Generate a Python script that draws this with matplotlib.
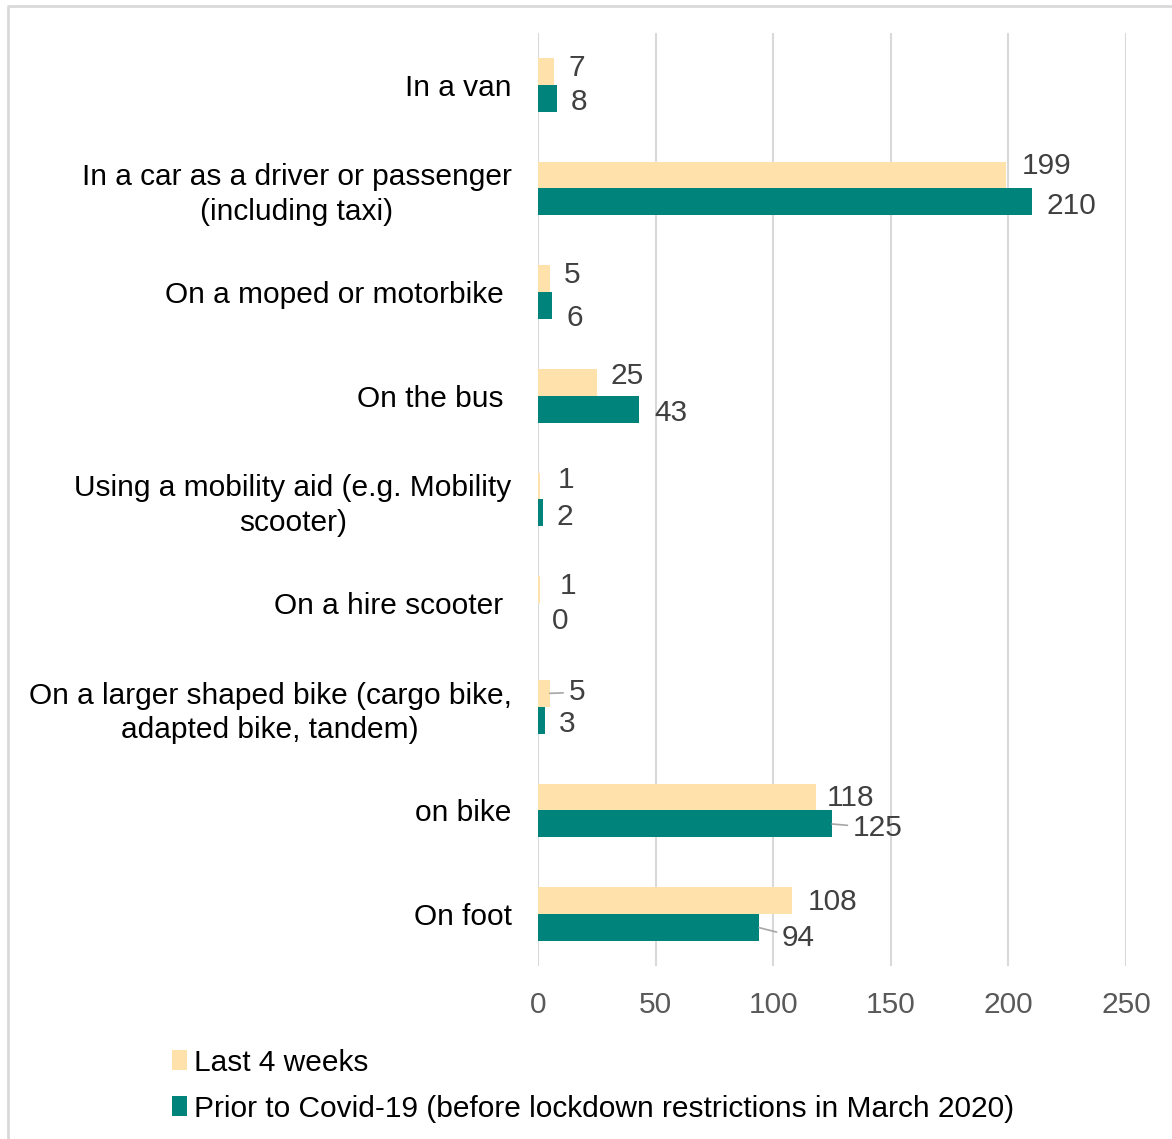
# plot.py
# horizontal grouped bar chart: how people travelled, last 4 weeks vs before Covid-19

import matplotlib
matplotlib.use("Agg")
import matplotlib.pyplot as plt
from matplotlib.lines import Line2D

plt.rcParams['font.family'] = ['Liberation Sans', 'DejaVu Sans']

# data
categories = [
    "In a van",
    "In a car as a driver or passenger\n(including taxi)",
    "On a moped or motorbike ",
    "On the bus ",
    "Using a mobility aid (e.g. Mobility\nscooter)",
    "On a hire scooter ",
    "On a larger shaped bike (cargo bike,\nadapted bike, tandem)",
    "on bike",
    "On foot",
]
last_4_weeks = [7, 199, 5, 25, 1, 1, 5, 118, 108]
prior_covid = [8, 210, 6, 43, 2, 0, 3, 125, 94]
series_names = ["Last 4 weeks",
                "Prior to Covid-19 (before lockdown restrictions in March 2020)"]
xticks = [0, 50, 100, 150, 200, 250]

# label nudges in pixels (dx, dy; dy positive = down), plus leader line flag
beige_nudge = [(14, -3), (16, -9), (14, -4), (14, -6), (17, -6),
               (19, -4), (19, -1), (11, 1), (16, 1)]
teal_nudge = [(14, 4), (15, 4), (14, 12), (15, 4), (14, 4),
              (14, 4), (14, 4), (21, 4), (23, 10)]
beige_leader = [False, False, False, False, False, False, True, False, False]
teal_leader = [False, False, False, False, False, False, False, True, True]

col_beige = '#FFE2AB'
col_teal = '#00837B'
bar_h = 0.26
fs = 21.5

fig = plt.figure(figsize=(11.72, 11.39), dpi=100)
ax = fig.add_axes([538 / 1172, 1 - 966 / 1139, 588 / 1172, 933 / 1139])

ypos = list(range(len(categories)))
yb = [y - bar_h / 2 for y in ypos]
yt = [y + bar_h / 2 for y in ypos]
ax.barh(yb, last_4_weeks, height=bar_h, color=col_beige, label=series_names[0], zorder=3)
ax.barh(yt, prior_covid, height=bar_h, color=col_teal, label=series_names[1], zorder=3)

ax.set_xlim(0, 250)
ax.set_ylim(len(categories) - 0.5, -0.5)
ax.set_xticks(xticks)
ax.set_xticklabels([str(t) for t in xticks])
ax.set_yticks(ypos)
ax.set_yticklabels(categories, fontsize=fs, color='black', multialignment='center',
                   linespacing=1.3)
ax.tick_params(axis='y', length=0, pad=19)
ax.tick_params(axis='x', length=0, pad=18, labelsize=fs, labelcolor='#595959')
for s in ax.spines.values():
    s.set_visible(False)
ax.grid(axis='x', color='#D9D9D9', linewidth=1.5, zorder=0)
ax.set_axisbelow(True)

# value labels
def add_labels(vals, ys, nudges, leaders):
    for v, y, (dx, dy), lead in zip(vals, ys, nudges, leaders):
        kw = {}
        if lead:
            kw['arrowprops'] = dict(arrowstyle='-', color='#A6A6A6', lw=1.2,
                                    shrinkA=2, shrinkB=0)
        ax.annotate(str(v), xy=(v, y), xytext=(dx, -dy), textcoords='offset pixels',
                    ha='left', va='center', fontsize=fs, color='#404040',
                    annotation_clip=False, **kw)

add_labels(last_4_weeks, yb, beige_nudge, beige_leader)
add_labels(prior_covid, yt, teal_nudge, teal_leader)

# legend
fig.legend(loc='upper left', bbox_to_anchor=(160 / 1172, 1 - 1037 / 1139),
           frameon=False, fontsize=fs, handlelength=0.5, handleheight=0.65,
           handletextpad=0.25, labelspacing=0.6, borderaxespad=0)

# light frame round the chart (top and left edges only show)
fig.lines.append(Line2D([8 / 1172, 8 / 1172, 1.0], [0.0, 1 - 6 / 1139, 1 - 6 / 1139],
                        transform=fig.transFigure, color='#D9D9D9', linewidth=2))

plt.savefig("out.png", dpi=100)
